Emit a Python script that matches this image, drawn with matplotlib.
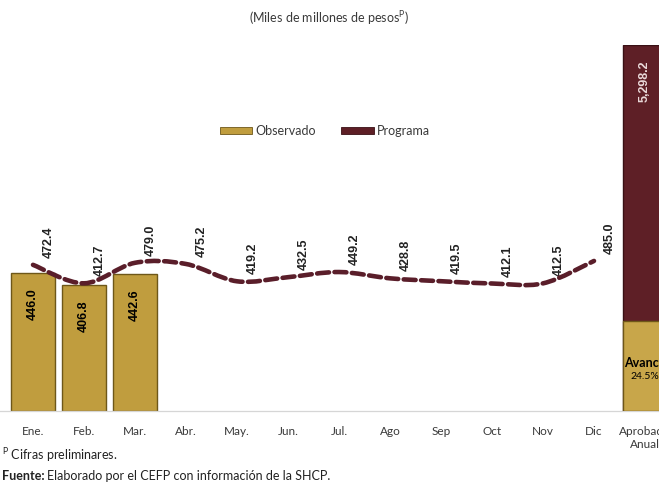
import matplotlib
matplotlib.use('Agg')
import matplotlib.pyplot as plt
from matplotlib.path import Path
from matplotlib.patches import PathPatch, Patch

meses = ['Ene.', 'Feb.', 'Mar.', 'Abr.', 'May.', 'Jun.', 'Jul.', 'Ago', 'Sep', 'Oct', 'Nov', 'Dic']
observado = [446.0, 406.8, 442.6]
programa = [472.4, 412.7, 479.0, 475.2, 419.2, 432.5, 449.2, 428.8, 419.5, 412.1, 412.5, 485.0]
aprobado_anual = 5298.2
avance_pct = 24.5
etiqueta_anual = 'Aprobado\nAnual'

oro = '#c09d3e'
oro_borde = '#6e5719'
guinda = '#5e1f26'
linea = '#5a1e2a'
gris = '#3a3a3a'

plt.rcParams['font.family'] = ['Lato', 'DejaVu Sans']

fig = plt.figure(figsize=(6.59, 4.83), dpi=100)
ax = fig.add_axes([0.0, 72 / 483, 1.0, 366 / 483])
ax2 = ax.twinx()

n = len(meses)
x = list(range(n))
# 51 px por categoria, la primera centrada en x=33 px
ax.set_xlim(-33 / 51, (659 - 33) / 51)
ax.set_ylim(0, 366 / 0.3094)
ax2.set_ylim(0, aprobado_anual)

# barras observadas
barras = ax.bar(x[:len(observado)], observado, width=0.88, color=oro, edgecolor=oro_borde,
                linewidth=1.0, zorder=2)
for b, v in zip(barras, observado):
    ax.annotate(f'{v:.1f}', (b.get_x() + b.get_width() / 2, v), xytext=(0, -11),
                textcoords='offset points', rotation=90, ha='center', va='top',
                fontsize=9, fontweight='bold', family='Liberation Sans', color='black')

# linea suavizada del programa (bezier tipo catmull-rom)
pts = list(zip(x, programa))
verts = [pts[0]]
codes = [Path.MOVETO]
for i in range(n - 1):
    p0 = pts[max(i - 1, 0)]
    p1 = pts[i]
    p2 = pts[i + 1]
    p3 = pts[min(i + 2, n - 1)]
    c1 = (p1[0] + (p2[0] - p0[0]) / 6, p1[1] + (p2[1] - p0[1]) / 6)
    c2 = (p2[0] - (p3[0] - p1[0]) / 6, p2[1] - (p3[1] - p1[1]) / 6)
    verts += [c1, c2, p2]
    codes += [Path.CURVE4] * 3
curva = PathPatch(Path(verts, codes), fill=False, edgecolor=linea, linewidth=3.3,
                  linestyle=(0, (2.6, 1.2)), capstyle='round', zorder=4)
ax.add_patch(curva)
for xi, v in zip(x, programa):
    ax.annotate(f'{v:.1f}', (xi, v), xytext=(11, 5), textcoords='offset points',
                rotation=90, ha='center', va='bottom', fontsize=9, fontweight='bold',
                family='Liberation Sans', color='#222222')

# barra del aprobado anual con el avance acumulado
avance = aprobado_anual * avance_pct / 100
xa = n
ax2.bar([xa], [aprobado_anual], width=0.88, color=guinda, edgecolor='#3a1015', linewidth=1.0, zorder=2)
ax2.bar([xa], [avance], width=0.88, color='#c8a64a', edgecolor=oro_borde, linewidth=1.0, zorder=3)
ax2.annotate(f'{aprobado_anual:,.1f}', (xa, aprobado_anual), xytext=(0, -11),
             textcoords='offset points', rotation=90, ha='center', va='top', fontsize=9,
             fontweight='bold', family='Liberation Sans', color='#ead9d9', zorder=5)
ax2.annotate('Avance', (xa, avance * 0.45), xytext=(0, 1), textcoords='offset points',
             ha='center', va='bottom', fontsize=9, fontweight='bold', color='black', zorder=5)
ax2.annotate(f'{avance_pct:.1f}%', (xa, avance * 0.45), xytext=(0, -1), textcoords='offset points',
             ha='center', va='top', fontsize=7.5, color='black', zorder=5)

ax.set_xticks(x + [xa])
ax.set_xticklabels(meses + [etiqueta_anual])
ax.tick_params(axis='x', length=0, pad=11, labelsize=8.5, labelcolor=gris)
ax.set_yticks([])
ax2.set_yticks([])
for a in (ax, ax2):
    for s in ('top', 'right', 'left'):
        a.spines[s].set_visible(False)
    a.spines['bottom'].set_color('#d6d6d6')
    a.patch.set_visible(False)

handles = [Patch(facecolor=oro, edgecolor=oro_borde, linewidth=0.6),
           Patch(facecolor=guinda, edgecolor='#3a1015', linewidth=0.6)]
fig.legend(handles, ['Observado', 'Programa'], loc='center', bbox_to_anchor=(0.493, 0.729),
           ncol=2, frameon=False, fontsize=9, handlelength=2.6, handleheight=0.55,
           handletextpad=0.25, columnspacing=2.0, labelcolor=gris)

fig.text(0.5, 1 - 18 / 483, '(Miles de millones de pesos$^{\\mathregular{P}}$)', ha='center',
         va='center', fontsize=9, color=gris)

fig.text(0.003, 1 - 455 / 483, '$^{\\mathregular{P}}$ Cifras preliminares.', ha='left',
         va='center', fontsize=9, color='#222222')
fuente = fig.text(0.003, 1 - 476 / 483, 'Fuente:', ha='left', va='center', fontsize=9,
                  fontweight='bold', color='#222222')
fig.canvas.draw()
bb = fuente.get_window_extent()
fig.text(bb.x1 / fig.bbox.width + 0.004, 1 - 476 / 483,
         'Elaborado por el CEFP con información de la SHCP.', ha='left', va='center',
         fontsize=9, color='#222222')

fig.savefig('out.png', dpi=100)
